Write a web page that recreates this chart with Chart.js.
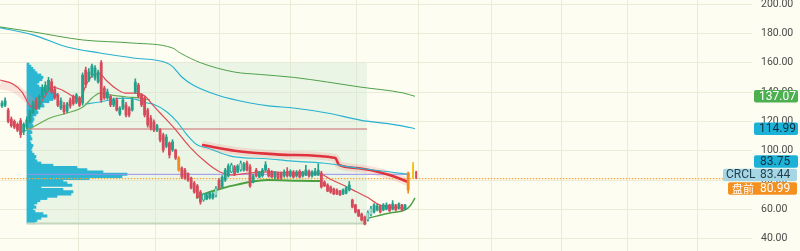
<!DOCTYPE html>
<html><head><meta charset="utf-8">
<script src="https://cdn.jsdelivr.net/npm/chart.js@4.4.0/dist/chart.umd.min.js"></script>
<style>html,body{margin:0;padding:0;background:#fdfdf1;overflow:hidden}canvas{display:block}</style>
</head><body>
<canvas id="c" width="800" height="251"></canvas>
<script>
// ---------- DATA ----------
const opens  = [130.5,131,127.7,121.5,120,118,120.5,113,116,120,126,134,130,137,140,142,147,142,138,129,131,127,134.5,137,133,136,132.5,155,148,151.6,149.6,147,160,142.7,136,137,131.2,134.6,125,129.1,131.2,129,127.7,140,144.8,138,136,127.7,122.3,119.6,114,114.1,110.7,103,105.2,100.5,100.5,95,88.2,86.8,84.5,81.4,77.9,76,71.8,66.4,67,67.8,67.8,69.1,80,75.5,80,82.8,85.5,89,85.5,86.8,86.8,91.6,89,78.6,86.8,82,83,86.8,86.8,85.5,82,84.5,84.8,82.8,86,82.8,85.5,82.8,86,82.8,83.4,86,82.8,83.4,83.4,84.8,78.6,76.6,75.3,74,73.2,72.5,70.5,71,73.2,66.4,63,59.6,56.8,54.8,52.7,56.2,58.2,59.6,62.3,59.6,60.2,63,60.2,63,60.9,63,60.2,84.8];
const highs  = [134,136,129,123,121,119,122,119,123,128,134,136,138,145,147,150,149,144,139,136,133,133,136,138,139,137,153,157,156,159,158,155,161.5,144,142,138,136,136,130,136,133,130,136,149,146,139,137,129,124,121,118,115,112,111,106,107.5,101,96,89,88,85,82,79,77,73,71,71,72,71.5,75.5,81,83,88,91,91.5,90,90.5,93,92,93,90.5,84,88,86,88,92.5,88,86.5,86,85.5,85.5,87,88.5,87,86.5,86.5,87,86,90,87,86.5,88,91,86,79.5,77.5,76,74.5,74,73,74,75.5,79,67,63.5,60,57.5,55.5,59,62,64,63.5,63,64,64.5,63.5,66,63.5,64.5,63.5,63.5,85.5];
const lows   = [129.5,130,119,116,115,113,109,111,115,119,125,128,129,136,139,141,139,135,130,128,125,126,129,131,132,130,131,143,147,150,148,146,133,135,135,130,130,127,124,128,123,123,127,139,136,130,123,116,114,113,113,106,99,102,95,99.5,94,86,81,80.5,79,74,71,67.5,63.5,65.5,66.5,67,67,68.5,74,75,79,82,85,83,85,86,86,86,75,78,82,81.5,82,86,82,81.5,81,80.5,80.5,82,82,82,81.5,82,81.5,82,83,82,82,83,83,74.5,75.5,72,71,70,70,69.5,70,70.5,72.5,61,57.5,55,52,49.4,52,55.5,57.5,59,57.5,59,59.6,58.5,59.6,59,60.2,59,59.6,71];
const closes = [132.5,134,120,117,116,114,111,118,121,127,132,129,137,142,144.5,148,140,136,131,134,126.5,132,130.5,132,138,131,151.5,145,153.6,157.7,156.4,153.6,134.6,136,140,131.2,134.6,127.7,129,134.6,124.3,124.3,134.6,146.8,137,131.2,124.3,117.5,115.5,114.1,117,107.3,100.5,109.3,97.1,106,95,86.8,82.1,81.4,80,74.6,71.8,68.4,65,70.5,69.8,71.2,70.5,74.6,74.6,82,86.8,89.6,90.3,84,89.6,91.6,91,86.8,76,82.8,82.8,85.5,86.8,90.3,82.8,82,85.5,81.4,81.4,85.5,82.8,86,82,85.5,82,85.5,86.8,82.8,85.5,86,86.8,75.3,76,72.5,71.8,70.5,70.5,69.8,73.2,74.6,76.6,61.6,58.2,55.5,52.7,50,58.2,60.9,63,62.3,58.2,63,63,59,63.7,59.6,63.7,59.6,63,73.2];
// pre-market / intraday marks after the last session
const extraIdx   = [132.6, 133.6];
const extraOpen  = [81.4, 85.5];
const extraHigh  = [92, 86];
const extraLow   = [81, 81];
const extraClose = [90.3, 81.4];

// moving-average style lines: [day index, price]
const slowGreen = [[-1,184.5],[10,181],[26,175.5],[42,173.4],[55,170],[57.5,166.6],[64,160],[75,153.6],[83,152],[94,150],[105,146.8],[115.5,143.4],[129.5,139.3],[133.2,137.07]];
const slowCyan  = [[-1,184],[10,179],[21,170.7],[31.6,166.6],[42.3,163.2],[53.2,159.8],[55.2,157],[58,150.2],[61.6,144.8],[69.4,138],[80,132.5],[86,130.5],[94,129.1],[104.8,125.7],[115.5,120.9],[129.4,116.8],[133.2,114.99]];
const thickRed  = [[64.5,103.9],[75,100],[85,98],[93,97.1],[107.5,95],[108.7,90.3],[114.5,88.2],[125,83.4],[131,78.7]];
const midCyan   = [[26.8,131.8],[31.6,133.2],[39,135.9],[42.9,135.2],[46.8,132.5],[48.7,131.8],[53.2,126.4],[56.5,119.6],[59.7,110.7],[62.9,104],[66,102],[74.5,96],[85.5,94.5],[93,93],[103.5,91.6],[114.5,88.2],[125.2,85.5],[131.5,83.75]];
const fastRed   = [[-0.6,148.2],[3.5,145.5],[6.5,140],[9,130.5],[11,129.1],[13.9,137.3],[16.1,143.4],[19.4,141.4],[22.6,137.3],[25.2,135.2],[27.1,144.8],[29.4,151.6],[31.6,152.3],[33.5,148.2],[36.5,142.7],[39.7,139.3],[42.9,139.3],[46.1,137.3],[48.4,131.8],[51,125.7],[55.2,116.2],[60.6,102.5],[66.1,91.6],[70.3,85.5],[74.2,83.4],[80,84.8],[86.5,85.5],[96.1,84.8],[101.9,84.8],[105.8,80.7],[110,76.6],[114.5,71.8],[117.7,68.4],[121.9,63],[125.2,61.6],[130,60.9]];
const lowGreen1 = [[5.8,112.1],[10,116.2],[15.5,122.3],[21,125.7],[26.1,129.8],[29.4,136.6],[31.6,139.3],[34.8,138],[40.3,136.6],[44.5,135.9],[47.7,134.6]];
const lowGreen2 = [[62.6,67.8],[66.1,71.2],[71.3,74.6],[76.8,77.3],[80,78.7],[85.5,80],[96,79.5],[102.6,79.3]];
const lowGreen3 = [[118.1,54.1],[125.2,57.5],[130,59.6],[131.6,62.3],[133.2,67.8]];
const pinkLeft  = [[-0.6,145],[4,142.5],[8,136],[10,132]];

// volume profile (fixed range, day 8 .. day 117.7)
const profileStart = 8.06, profileEnd = 117.7, profileTop = 160, profileBottom = 50;
const profilePrice = [51,52.5,54,55.5,57,58.5,60,61.5,63,64.5,66,67.5,69,70.5,72,73.5,75,76.5,78,79.5,81,82.5,84,85.5,87,88.5,90,91.5,93,94.5,96,97.5,99,100.5,102,103.5,105,106.5,108,109.5,111,112.5,114,115.5,117,118.5,120,121.5,123,124.5,126,127.5,129,130.5,132,133.5,135,136.5,138,139.5,141,142.5,144,145.5,147,148.5,150,151.5,153,154.5,156,157.5,159];
const profileVol   = [8,10,14,20,16,8,6,9,7,10,13,20,30,44,46,36,14,45,40,36,62,95,100,76,60,50,26,14,10,8,9,7,5,4,5,6,4,3,5,4,3,5,4,5,6,5,6,7,6,9,11,10,13,17,16,22,26,28,30,27,24,18,12,10,12,15,16,14,10,8,6,4,2];
const pocPrice = 83.9, vahPrice = 114.8;
const preMarket = 80.99, lastPrice = 83.44;

const priceTicks = [40,60,80,100,120,140,160,180,200];
const monthTicks = [24.8,49.4,70.3,92.9,114.2,134.2,158,180.3,201.6,224.2];

const orangeDays = [57,131];
const hollowDays = [65,69,74,77,118,119];

// ---------- CHART ----------
const RED='#d54b5b', TEAL='#23a08c', ORANGE='#f08c1e', YELLOW='#f2c21b';
function cColor(i){
  if (orangeDays.includes(i)) return ORANGE;
  return closes[i] >= opens[i] ? TEAL : RED;
}
const pts = a => a.map(p => ({x:p[0], y:p[1]}));
const lineDs = (data, color, width, order, extra) => Object.assign({
  type:'line', data:pts(data), borderColor:color, borderWidth:width, pointRadius:0,
  cubicInterpolationMode:'monotone', fill:false, order
}, extra||{});
const scaleFactor = 1/3.1; // profile volume units -> day units

const datasets = [
  {type:'line', data:[{x:profileStart,y:profileTop},{x:profileEnd,y:profileTop}], borderWidth:0, pointRadius:0,
   fill:{value:profileBottom}, backgroundColor:'rgba(196,230,205,0.32)', order:100},
  {type:'bar', indexAxis:'y', data:profilePrice.map((p,i)=>({y:p, x:[profileStart, profileStart+profileVol[i]*scaleFactor]})),
   backgroundColor:'#2cb6d2', borderWidth:0, barThickness:2.4, grouped:false, order:90},
  lineDs([[profileStart,profileBottom+0.4],[profileEnd,profileBottom+0.4]], '#c6d6bd', 2, 85),
  lineDs([[profileStart,vahPrice],[profileEnd,vahPrice]], 'rgba(214,150,150,0.75)', 2, 85),
  lineDs(pinkLeft, 'rgba(235,140,140,0.22)', 9, 80),
  lineDs(thickRed, 'rgba(240,130,130,0.22)', 8, 80),
  lineDs(slowGreen, '#4f9f4a', 1, 70),
  lineDs(slowCyan, '#27b0cf', 1.2, 70),
  lineDs([[profileStart,pocPrice],[131.5,pocPrice]], '#9a90ee', 1, 60),
  lineDs([[-2,preMarket],[245,preMarket]], '#f2a640', 1.2, 55, {borderDash:[1.5,1.5], cubicInterpolationMode:'default'}),
  lineDs(thickRed, '#e0323c', 2.6, 50),
  lineDs(midCyan, '#2fb7cf', 1.2, 48),
  lineDs(fastRed, '#df4b55', 1.2, 45),
  lineDs(lowGreen1, '#6aaa55', 1.2, 45),
  lineDs(lowGreen2, '#4aa040', 2, 45),
  lineDs(lowGreen3, '#4aa040', 1.4, 45),
  {type:'bar', data:opens.map((o,i)=>({x:i, y:[lows[i],highs[i]]})), backgroundColor:ctx=>cColor(ctx.dataIndex),
   barThickness:1, grouped:false, order:20},
  {type:'bar', data:extraIdx.map((x,i)=>({x, y:[extraLow[i],extraHigh[i]]})), backgroundColor:[YELLOW,RED],
   barThickness:1, grouped:false, order:20},
  {type:'bar', data:opens.map((o,i)=>({x:i, y:[o,closes[i]]})),
   backgroundColor:ctx=>hollowDays.includes(ctx.dataIndex)?'#d8f0ea':cColor(ctx.dataIndex),
   borderColor:ctx=>cColor(ctx.dataIndex), borderWidth:ctx=>hollowDays.includes(ctx.dataIndex)?0.8:0, borderSkipped:false,
   barThickness:2.2, grouped:false, order:10},
  {type:'bar', data:extraIdx.map((x,i)=>({x, y:[extraOpen[i],extraClose[i]]})), backgroundColor:[YELLOW,RED],
   barThickness:[2.2,1.2], grouped:false, order:10},
];

const tagPlugin = {
  id:'tags',
  afterDraw(chart){
    const ctx = chart.ctx, ys = chart.scales.y;
    const h = 12.5, x0 = 754, w = 44;
    const numFont = '12px Roboto, "Liberation Sans", sans-serif';
    function box(x, yc, wd, bg){
      ctx.fillStyle = bg; ctx.beginPath();
      if (ctx.roundRect) ctx.roundRect(x, yc-h/2, wd, h, 2); else ctx.rect(x, yc-h/2, wd, h);
      ctx.fill();
    }
    function txt(s, x, yc, fg, font){
      ctx.fillStyle = fg; ctx.font = font || numFont; ctx.textAlign='left'; ctx.textBaseline='middle';
      ctx.fillText(s, x, yc+0.5);
    }
    ctx.save();
    let yc = ys.getPixelForValue(137.07);
    box(x0, yc, w, '#4caf50'); txt('137.07', x0+5, yc, '#ffffff');
    yc = ys.getPixelForValue(114.99);
    box(x0, yc, w, '#1cb1d6'); txt('114.99', x0+5, yc, '#10303f');
    const yl = ys.getPixelForValue(lastPrice);
    box(x0, yl-13.5, w, '#1cb1d6'); txt('83.75', x0+6, yl-13.5, '#10303f');
    box(723, yl, x0+w-723-1, '#a6d6e4'); txt('CRCL', 726, yl, '#1f3f52'); txt(lastPrice.toFixed(2), x0+6, yl, '#1f3f52');
    box(728, yl+13.5, x0+w-728-1, '#f39020'); txt('盘前', 732, yl+13.5, '#ffffff', '11px "Noto Sans CJK SC", sans-serif');
    txt(preMarket.toFixed(2), x0+6, yl+13.5, '#ffffff');
    ctx.restore();
  }
};

function zeroPad(s){
  s.paddingTop = 0; s.paddingBottom = 0; s.paddingLeft = 0; s.paddingRight = 0;
  if (s._margins) { s._margins.top = 0; s._margins.bottom = 0; s._margins.left = 0; s._margins.right = 0; }
}

new Chart(document.getElementById('c'), {
  type:'bar',
  data:{datasets},
  options:{
    responsive:false, animation:false, devicePixelRatio:1,
    layout:{padding:0},
    plugins:{legend:{display:false}, tooltip:{enabled:false}},
    scales:{
      x:{type:'linear', min:-0.645, max:241.9, offset:false,
         afterBuildTicks:s=>{s.ticks = monthTicks.map(v=>({value:v}));},
         afterFit:s=>{s.height=0; zeroPad(s);},
         ticks:{display:false}, border:{display:false},
         grid:{color:'#ecebd8', drawTicks:false, offset:false}},
      y:{type:'linear', position:'right', min:31.63, max:202.73, offset:false,
         afterBuildTicks:s=>{s.ticks = priceTicks.map(v=>({value:v}));},
         afterFit:s=>{s.width=48; zeroPad(s);},
         border:{display:false},
         grid:{color:'#ecebd8', drawTicks:false, offset:false},
         ticks:{color:'#4a4a4a', padding:9, font:{size:10.5, family:'Roboto'}, callback:v=>v.toFixed(2)}}
    }
  },
  plugins:[tagPlugin]
});
</script>
</body></html>
